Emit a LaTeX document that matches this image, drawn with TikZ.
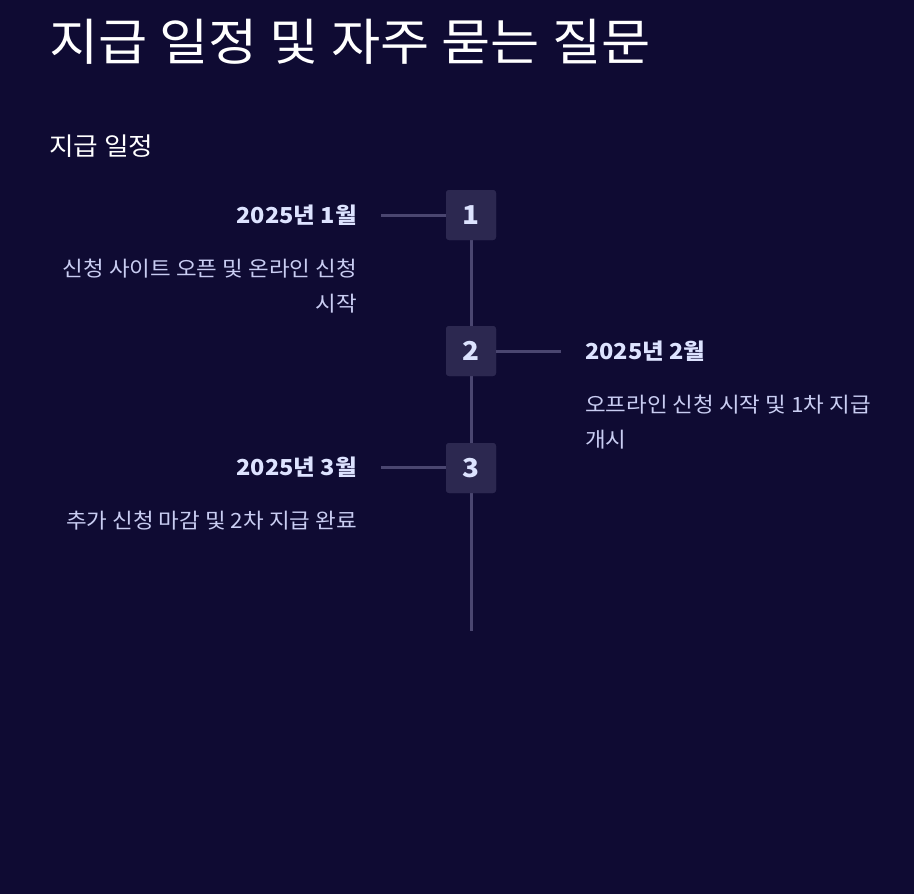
\documentclass[tikz,border=0pt]{standalone}
\usepackage{fontspec}
\setmainfont{Noto Sans CJK KR}[FakeStretch=1.07]
\definecolor{bgc}{HTML}{0F0B33}
\definecolor{boxc}{HTML}{2C2850}
\definecolor{linec}{HTML}{4A4670}
\definecolor{datec}{HTML}{DDE3FF}
\definecolor{descc}{HTML}{C9CDF2}
\tikzset{
  stepbox/.style={fill=boxc, rounded corners=3pt, minimum width=50pt, minimum height=50pt, inner sep=0pt, text=datec, font=\fontsize{26}{30}\selectfont\bfseries},
  tline/.style={draw=linec, line width=3pt},
  datelbl/.style={inner sep=0pt, text=datec, font=\fontsize{22}{24}\selectfont\bfseries},
  desclbl/.style={inner sep=0pt, text=descc, font=\fontsize{21}{35}\selectfont},
}
\begin{document}
\begin{tikzpicture}[x=1pt,y=-1pt]
\fill[bgc] (0,0) rectangle (914,894);
\useasboundingbox (0,0) rectangle (914,894);
\node[anchor=base west, inner sep=0pt, text=white, font=\fontsize{50}{56}\selectfont] (title) at (49,60) {지급 일정 및 자주 묻는 질문};
\node[anchor=base west, inner sep=0pt, text=white, font=\fontsize{25}{28}\selectfont] (sub) at (49,155) {지급 일정};
\coordinate (lineend) at (471,631);
\node[stepbox] (s1) at (471,215) {};
\node[stepbox] (s2) at (471,351) {};
\node[stepbox] (s3) at (471,468) {};
\draw[tline] (s1.south) -- (lineend);
\node[stepbox] at (s1) {1};
\node[stepbox] at (s2) {2};
\node[stepbox] at (s3) {3};
\coordinate (c1) at (381,215);
\coordinate (c2) at (561,351);
\coordinate (c3) at (381,467);
\draw[tline] (c1) -- (s1.west|-c1);
\draw[tline] (s2.east|-c2) -- (c2);
\draw[tline] (c3) -- (s3.west|-c3);
\node[datelbl, anchor=base east] (d1) at (357,223) {2025년 1월};
\node[desclbl, anchor=north east, align=right] (t1) at (357,259) {신청 사이트 오픈 및 온라인 신청\\시작};
\node[datelbl, anchor=base west] (d2) at (585,359) {2025년 2월};
\node[desclbl, anchor=north west, align=left] (t2) at (585,395) {오프라인 신청 시작 및 1차 지급\\개시};
\node[datelbl, anchor=base east] (d3) at (357,475) {2025년 3월};
\node[desclbl, anchor=north east, align=right] (t3) at (357,511) {추가 신청 마감 및 2차 지급 완료};
\end{tikzpicture}
\end{document}
